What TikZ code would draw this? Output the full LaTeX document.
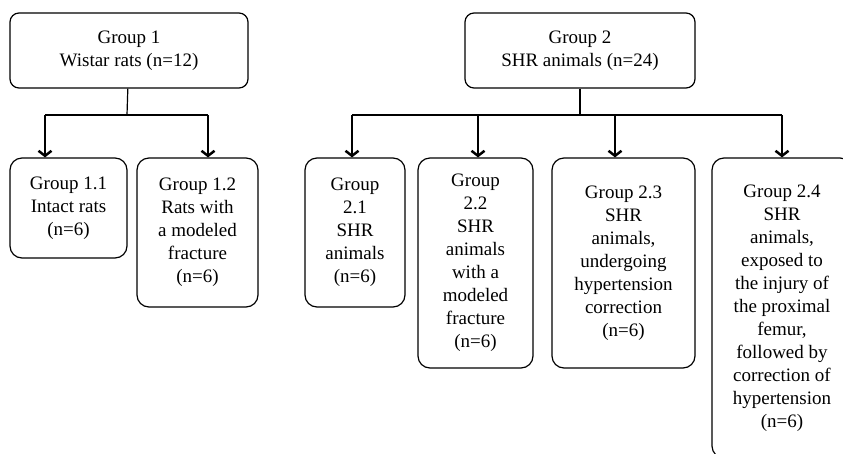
\documentclass[tikz,border=0pt]{standalone}
\usepackage{fontspec}
\setmainfont{Liberation Serif}
\newfontfamily\grpfont{Liberation Serif}
\usetikzlibrary{arrows.meta}

\begin{document}
\begin{tikzpicture}[x=1pt,y=-1pt,>={Straight Barb[length=5pt,width=13pt]},line width=1.2pt,
  group node/.style={draw,rounded corners=12pt,align=center,inner sep=2pt,font=\grpfont\fontsize{19}{23}\selectfont},
  branch/.style={->,line width=2.5pt}]

            \clip (0,0) rectangle (843,453);

            \node[group node, rounded corners=9pt, minimum width=238, minimum height=75] (g1) at (129,50.5) {Group 1\\Wistar rats (n=12)};
            \node[group node, rounded corners=9pt, minimum width=230, minimum height=75] (g2) at (580,50.5) {Group 2\\SHR animals (n=24)};

            \node[group node, minimum width=117, minimum height=100] (g11) at (68.5,208) {Group 1.1\\Intact rats\\(n=6)};
            \node[group node, minimum width=121, minimum height=149] (g12) at (197.5,232.5) {Group 1.2\\Rats with\\a modeled\\fracture\\(n=6)};
            \node[group node, minimum width=100, minimum height=149] (g21) at (355,232.5) {Group\\2.1\\SHR\\animals\\(n=6)};
            \node[group node, minimum width=115, minimum height=210] (g22) at (475.5,263) {Group\\2.2\\SHR\\animals\\with a\\modeled\\fracture\\(n=6)};
            \node[group node, minimum width=143, minimum height=210] (g23) at (623.5,263) {Group 2.3\\SHR\\animals,\\undergoing\\hypertension\\correction\\(n=6)};
            \node[group node, minimum width=140, minimum height=300] (g24) at (782,308) {Group 2.4\\SHR\\animals,\\exposed to\\the injury of\\the proximal\\femur,\\followed by\\correction of\\hypertension\\(n=6)};

            \coordinate (j1) at (127,115);
            \coordinate (a11) at (45,115);
            \coordinate (a12) at (208,115);
            \coordinate (j2) at (580,115);
            \coordinate (a21) at (352,115);
            \coordinate (a22) at (478,115);
            \coordinate (a23) at (615,115);
            \coordinate (a24) at (782,115);

            \draw (g1) -- (j1);
            \draw (a11) -- (a12);
            \draw (g2) -- (j2);
            \draw (a21) -- (a24);

            \draw[branch] (a11) -- (a11 |- g11.north);
            \draw[branch] (a12) -- (a12 |- g12.north);
            \draw[branch] (a21) -- (a21 |- g21.north);
            \draw[branch] (a22) -- (a22 |- g22.north);
            \draw[branch] (a23) -- (a23 |- g23.north);
            \draw[branch] (a24) -- (a24 |- g24.north);

            ;
        \end{tikzpicture}
\end{document}
